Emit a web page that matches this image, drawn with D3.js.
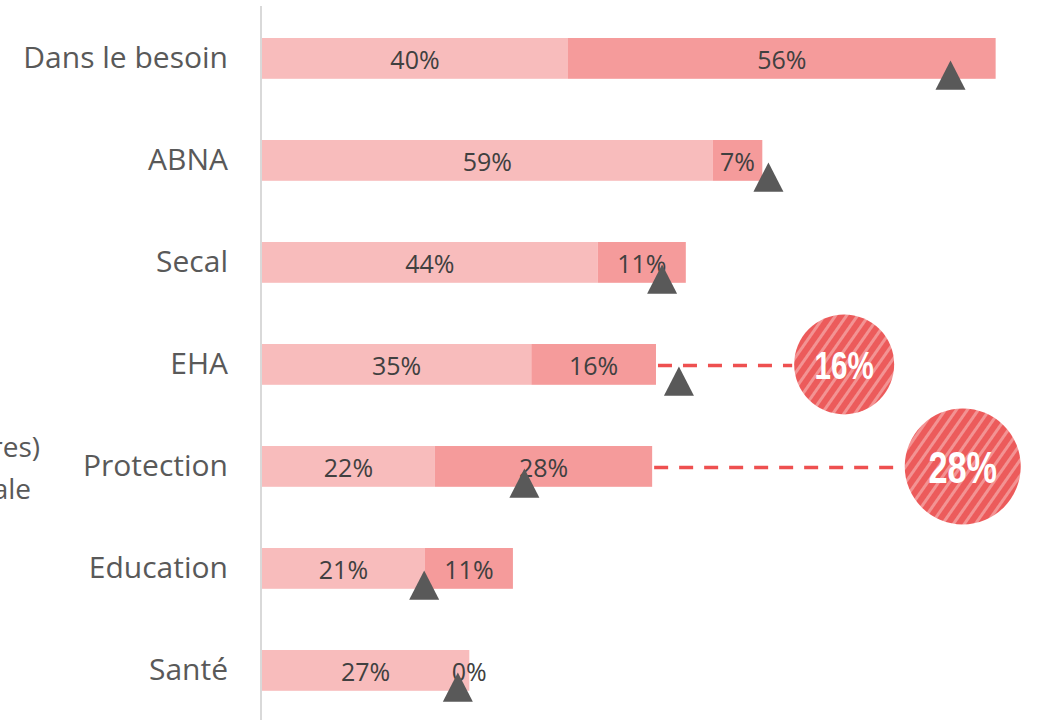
<!DOCTYPE html>
<html>
<head>
<meta charset="utf-8">
<script src="https://cdn.jsdelivr.net/npm/d3@7"></script>
<style>
  html, body { margin: 0; padding: 0; background: #fff; overflow: hidden; }
  svg { display: block; }
</style>
</head>
<body>
<svg id="chart" width="1038" height="720"></svg>
<script>
// ---- data ----
const categories = ["Dans le besoin", "ABNA", "Secal", "EHA", "Protection", "Education", "Santé"];
const baseValues = [40.0, 58.9, 43.9, 35.2, 22.6, 21.3, 27.1];
const extraValues = [55.9, 6.5, 11.5, 16.3, 28.4, 11.5, 0];
const baseLabels = ["40%", "59%", "44%", "35%", "22%", "21%", "27%"];
const extraLabels = ["56%", "7%", "11%", "16%", "28%", "11%", "0%"];
const markerValues = [90.0, 66.2, 52.3, 54.5, 34.3, 21.2, 25.6];
const calloutCategories = ["EHA", "Protection"];
const calloutLabels = ["16%", "28%"];
const calloutPositions = [76.1, 91.6];   // in x-scale units
const calloutRadii = [50, 58];
const calloutFontSizes = [38, 44];
const sideLabelLines = ["(% des bénéficiaires)", "de la population totale"];

// ---- layout ----
const svg = d3.select("#chart");
const x = d3.scaleLinear().domain([0, 100]).range([262, 1027]);
const y = d3.scaleBand().domain(categories).range([38, 690.8]).paddingInner(0.6).paddingOuter(0);
const bw = y.bandwidth();

const colLight = "#F8BCBC";
const colDark = "#F59B9B";

// hatch pattern
const defs = svg.append("defs");
const pat = defs.append("pattern")
  .attr("id", "hatch").attr("patternUnits", "userSpaceOnUse")
  .attr("width", 9).attr("height", 9)
  .attr("patternTransform", "rotate(35)");
pat.append("rect").attr("width", 9).attr("height", 9).attr("fill", "#EC5B5B");
pat.append("rect").attr("x", 0).attr("width", 3).attr("height", 9).attr("fill", "#F39393");

const rows = categories.map((c, i) => ({
  cat: c, base: baseValues[i], extra: extraValues[i],
  bl: baseLabels[i], el: extraLabels[i], m: markerValues[i]
}));

// axis line
svg.append("line")
  .attr("x1", x(0) - 1).attr("x2", x(0) - 1)
  .attr("y1", 6).attr("y2", 720)
  .attr("stroke", "#D9D9D9").attr("stroke-width", 2);

// base bars
svg.selectAll(".base").data(rows).join("rect")
  .attr("x", x(0)).attr("y", d => y(d.cat))
  .attr("width", d => x(d.base) - x(0)).attr("height", bw)
  .attr("fill", colLight);

// extra bars
svg.selectAll(".extra").data(rows).join("rect")
  .attr("x", d => x(d.base)).attr("y", d => y(d.cat))
  .attr("width", d => x(d.base + d.extra) - x(d.base)).attr("height", bw)
  .attr("fill", colDark);

// dashed lines + callouts
calloutCategories.forEach((c, i) => {
  const r = rows.find(d => d.cat === c);
  const cy = y(c) + bw / 2;
  const cx = x(calloutPositions[i]);
  const rad = calloutRadii[i];
  svg.append("line")
    .attr("x1", x(r.base + r.extra) + 2).attr("x2", cx - rad - 2)
    .attr("y1", cy + 1).attr("y2", cy + 1)
    .attr("stroke", "#EE5050").attr("stroke-width", 3.5)
    .attr("stroke-dasharray", "14,11");
  svg.append("circle")
    .attr("cx", cx).attr("cy", cy).attr("r", rad)
    .attr("fill", "url(#hatch)");
  svg.append("text")
    .attr("transform", `translate(${cx},${cy + 1}) scale(0.78,1)`)
    .attr("text-anchor", "middle").attr("dy", "0.36em")
    .attr("font-family", "'Liberation Sans', Arial, sans-serif")
    .attr("font-weight", "bold")
    .attr("font-size", calloutFontSizes[i])
    .attr("fill", "#fff")
    .text(calloutLabels[i]);
});

// value labels
const valFont = "'Open Sans', 'Noto Sans', sans-serif";
svg.selectAll(".bl").data(rows).join("text")
  .attr("x", d => (x(0) + x(d.base)) / 2)
  .attr("y", d => y(d.cat) + bw / 2 + 2)
  .attr("dy", "0.35em").attr("text-anchor", "middle")
  .attr("font-family", valFont).attr("font-size", 25).attr("fill", "#404040")
  .text(d => d.bl);
svg.selectAll(".el").data(rows).join("text")
  .attr("x", d => (x(d.base) + x(d.base + d.extra)) / 2)
  .attr("y", d => y(d.cat) + bw / 2 + 2)
  .attr("dy", "0.35em").attr("text-anchor", "middle")
  .attr("font-family", valFont).attr("font-size", 25).attr("fill", "#404040")
  .text(d => d.el);

// triangle markers
svg.selectAll(".tri").data(rows).join("path")
  .attr("d", d => {
    const cx = x(d.m), top = y(d.cat) + bw / 2 + 2, bot = y(d.cat) + bw + 11;
    const p = d3.path();
    p.moveTo(cx, top); p.lineTo(cx + 15, bot); p.lineTo(cx - 15, bot); p.closePath();
    return p.toString();
  })
  .attr("fill", "#595959");

// category labels
svg.selectAll(".cat").data(rows).join("text")
  .attr("x", 228).attr("y", d => y(d.cat) + bw / 2 + 1)
  .attr("dy", "0.3em").attr("text-anchor", "end")
  .attr("font-family", valFont).attr("font-size", 30).attr("fill", "#595959")
  .text(d => d.cat);

// side label, partially outside the frame as in the reference
svg.append("text").attr("x", 40).attr("y", 457).attr("text-anchor", "end")
  .attr("font-family", valFont).attr("font-size", 28).attr("fill", "#595959")
  .text(sideLabelLines[0]);
svg.append("text").attr("x", 31).attr("y", 499).attr("text-anchor", "end")
  .attr("font-family", valFont).attr("font-size", 28).attr("fill", "#595959")
  .text(sideLabelLines[1]);
</script>
</body>
</html>
